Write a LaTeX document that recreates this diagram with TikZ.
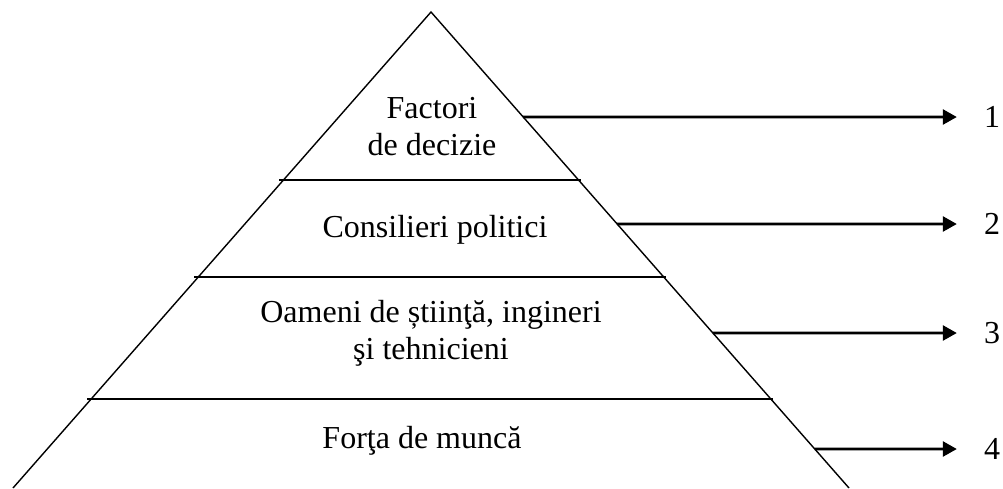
\documentclass[tikz,border=0pt]{standalone}
\usepackage{fontspec}
\setmainfont{Liberation Serif}
\usetikzlibrary{calc,arrows.meta}
\tikzstyle{tier}=[font=\fontsize{32}{37}\selectfont, align=center, anchor=base, inner sep=0pt]
\tikzstyle{side}=[line width=1.4pt]
\tikzstyle{divider}=[line width=1.4pt, shorten <=-4pt, shorten >=-2pt]
\tikzstyle{pointer}=[line width=2.6pt, -{Triangle[length=14pt,width=15pt]}]
\tikzstyle{levelnum}=[font=\fontsize{32}{37}\selectfont, minimum width=70pt, inner sep=0pt]
\newcommand{\edgept}[3]{
  % point on side #2 of the pyramid at height #3
  \coordinate (#1) at ($(apex)!{(#3-12)/476}!(#2)$);
}

\begin{document}
\begin{tikzpicture}[x=1pt,y=-1pt]
\useasboundingbox (0,0) rectangle (1003,488);
\coordinate (apex) at (431,12);
\coordinate (bl) at (13,488);
\coordinate (br) at (849,488);
\draw[side] (bl) -- (apex) -- (br);

% levels
\foreach \y [count=\i] in {180,277,399} {
  \edgept{dl\i}{bl}{\y}
  \edgept{dr\i}{br}{\y}
  \draw[divider] (dl\i) -- (dr\i);
}

% base of a two-line node is its last line
\node[tier] (deciders) at (432,155) {Factori\\de decizie};
\node[tier] (advisers) at (435,237) {Consilieri politici};
\node[tier] (science) at (431,359) {Oameni de știinţă, ingineri\\şi tehnicieni};
\node[tier] (labour) at (422,448) {Forţa de muncă};

% numbers on the right
\foreach \y/\n in {117/1,224/2,333/3,449/4} {
  \edgept{e\n}{br}{\y}
  \node[levelnum] (n\n) at (992,\y) {\n};
  \draw[pointer] (e\n) -- (n\n);
}
\end{tikzpicture}
\end{document}
